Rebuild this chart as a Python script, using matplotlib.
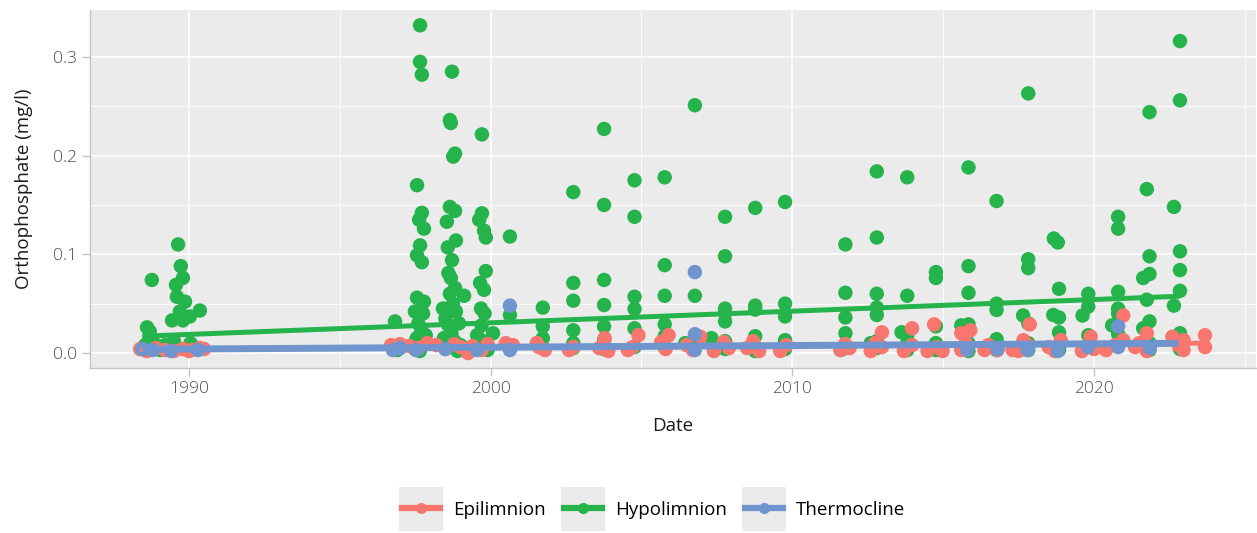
import matplotlib
matplotlib.use("Agg")
import matplotlib.pyplot as plt
from matplotlib.lines import Line2D
from matplotlib.patches import Rectangle
from matplotlib.legend_handler import HandlerLine2D
from matplotlib.ticker import MultipleLocator

plt.rcParams['font.family'] = ['Open Sans', 'DejaVu Sans']

# ---------------- data (decimal year, mg/l) ----------------
series_names = ["Epilimnion", "Hypolimnion", "Thermocline"]
series_colors = ["#F8766D", "#25B34B", "#7094CD"]

hypo_pts = [
    (1988.45, 0.004), (1988.55, 0.008), (1988.61, 0.026), (1988.70, 0.022), (1988.77, 0.074),
    (1988.80, 0.012), (1988.90, 0.006), (1989.05, 0.003), (1989.20, 0.008), (1989.37, 0.005),
    (1989.44, 0.033), (1989.50, 0.012), (1989.57, 0.069), (1989.64, 0.110), (1989.60, 0.057),
    (1989.73, 0.088), (1989.70, 0.042), (1989.80, 0.076), (1989.80, 0.033), (1989.87, 0.052),
    (1989.90, 0.004), (1990.03, 0.037), (1990.05, 0.010), (1990.36, 0.043), (1990.20, 0.006),
    (1996.83, 0.032), (1996.90, 0.003),
    (1997.49, 0.042), (1997.56, 0.056), (1997.56, 0.170), (1997.56, 0.099), (1997.66, 0.332),
    (1997.66, 0.295), (1997.72, 0.282), (1997.72, 0.142), (1997.63, 0.135), (1997.79, 0.126),
    (1997.66, 0.109), (1997.72, 0.092), (1997.79, 0.052), (1997.76, 0.040), (1997.60, 0.030),
    (1997.70, 0.022), (1997.55, 0.015), (1997.80, 0.010), (1997.50, 0.004), (1997.65, 0.002),
    (1997.85, 0.018), (1997.40, 0.008),
    (1998.42, 0.045), (1998.55, 0.133), (1998.65, 0.148), (1998.82, 0.144), (1998.72, 0.285),
    (1998.65, 0.236), (1998.68, 0.233), (1998.82, 0.202), (1998.76, 0.199), (1998.85, 0.114),
    (1998.58, 0.107), (1998.72, 0.094), (1998.60, 0.081), (1998.68, 0.076), (1998.82, 0.066),
    (1999.12, 0.058), (1998.85, 0.042), (1998.50, 0.035), (1998.60, 0.028), (1998.70, 0.020),
    (1998.80, 0.012), (1998.55, 0.006), (1998.90, 0.002), (1998.75, 0.050), (1998.95, 0.030),
    (1998.45, 0.015), (1998.65, 0.060), (1999.00, 0.008),
    (1999.71, 0.2215), (1999.71, 0.1415), (1999.62, 0.135), (1999.78, 0.124), (1999.84, 0.117),
    (1999.84, 0.083), (1999.65, 0.071), (1999.78, 0.064), (1999.68, 0.045), (1999.80, 0.040),
    (2000.08, 0.020), (1999.70, 0.028), (1999.75, 0.012), (1999.60, 0.005), (1999.90, 0.003),
    (1999.55, 0.018),
    (2000.64, 0.118), (2000.64, 0.0385), (2000.64, 0.008),
    (2001.73, 0.046), (2001.73, 0.027), (2001.73, 0.015), (2001.73, 0.005),
    (2002.74, 0.163), (2002.74, 0.071), (2002.74, 0.053), (2002.74, 0.023), (2002.74, 0.010), (2002.74, 0.005),
    (2003.76, 0.227), (2003.76, 0.150), (2003.76, 0.074), (2003.76, 0.0486), (2003.76, 0.027), (2003.76, 0.013), (2003.76, 0.004),
    (2004.77, 0.175), (2004.77, 0.138), (2004.77, 0.057), (2004.77, 0.0446), (2004.77, 0.025), (2004.77, 0.006),
    (2005.77, 0.178), (2005.77, 0.089), (2005.77, 0.058), (2005.77, 0.029), (2005.77, 0.017), (2005.77, 0.006),
    (2006.77, 0.251), (2006.77, 0.058), (2006.45, 0.010), (2006.77, 0.006), (2007.32, 0.015),
    (2007.77, 0.138), (2007.77, 0.098), (2007.77, 0.045), (2007.77, 0.040), (2007.77, 0.032), (2007.77, 0.012), (2007.77, 0.004),
    (2008.77, 0.147), (2008.77, 0.048), (2008.77, 0.044), (2008.77, 0.017), (2008.77, 0.006), (2008.77, 0.002),
    (2009.76, 0.153), (2009.76, 0.050), (2009.76, 0.037), (2009.76, 0.013), (2009.76, 0.004),
    (2011.76, 0.110), (2011.76, 0.061), (2011.76, 0.036), (2011.76, 0.020), (2011.76, 0.005), (2011.60, 0.003),
    (2012.80, 0.184), (2012.80, 0.117), (2012.80, 0.060), (2012.80, 0.046), (2012.80, 0.0385), (2012.80, 0.012),
    (2012.60, 0.010), (2012.80, 0.005),
    (2013.81, 0.178), (2013.81, 0.058), (2013.62, 0.021), (2013.81, 0.018), (2013.81, 0.010), (2013.81, 0.003),
    (2014.76, 0.082), (2014.76, 0.076), (2014.76, 0.027), (2014.76, 0.010), (2014.76, 0.003),
    (2015.84, 0.188), (2015.84, 0.088), (2015.84, 0.061), (2015.84, 0.029), (2015.60, 0.028), (2015.84, 0.010), (2015.84, 0.002),
    (2016.77, 0.154), (2016.77, 0.050), (2016.77, 0.0436), (2016.77, 0.014), (2016.77, 0.003),
    (2017.82, 0.263), (2017.82, 0.095), (2017.82, 0.086), (2017.65, 0.038), (2017.82, 0.030), (2017.82, 0.010), (2017.82, 0.003),
    (2018.67, 0.116), (2018.80, 0.112), (2018.84, 0.065), (2018.65, 0.0385), (2018.84, 0.036), (2018.84, 0.021),
    (2018.84, 0.008), (2018.84, 0.003),
    (2019.62, 0.038), (2019.81, 0.060), (2019.81, 0.047), (2019.81, 0.018), (2019.81, 0.008),
    (2020.80, 0.138), (2020.80, 0.126), (2020.80, 0.062), (2020.80, 0.045), (2020.80, 0.040), (2020.60, 0.028),
    (2020.80, 0.019), (2020.80, 0.008),
    (2021.75, 0.166), (2021.84, 0.244), (2021.84, 0.098), (2021.63, 0.076), (2021.84, 0.080), (2021.75, 0.054),
    (2021.84, 0.032), (2021.63, 0.025), (2021.84, 0.010), (2021.84, 0.003),
    (2022.85, 0.316), (2022.85, 0.256), (2022.65, 0.148), (2022.85, 0.103), (2022.85, 0.084), (2022.85, 0.063),
    (2022.65, 0.048), (2022.85, 0.020), (2022.85, 0.010), (2022.85, 0.004),
]

epi_pts = [
    (1988.38, 0.004), (1988.60, 0.002), (1988.90, 0.005), (1989.20, 0.003), (1989.50, 0.002),
    (1989.80, 0.004), (1990.10, 0.003), (1990.36, 0.005), (1990.50, 0.004), (1990.00, 0.002),
    (1996.83, 0.006), (1996.70, 0.008), (1997.00, 0.009), (1997.30, 0.007), (1997.60, 0.005),
    (1997.90, 0.010), (1998.20, 0.008), (1998.50, 0.004), (1998.80, 0.009), (1999.00, 0.006),
    (1999.25, 0.000), (1999.40, 0.007), (1999.70, 0.003), (1999.90, 0.009), (2000.50, 0.010),
    (2000.74, 0.008), (2001.53, 0.010), (2001.60, 0.006), (2001.80, 0.003),
    (2002.74, 0.006), (2002.60, 0.003),
    (2003.60, 0.005), (2003.78, 0.015), (2003.90, 0.002),
    (2004.55, 0.003), (2004.90, 0.018), (2004.70, 0.006),
    (2005.65, 0.011), (2005.90, 0.018), (2005.80, 0.004),
    (2006.50, 0.008), (2006.95, 0.0165), (2006.70, 0.003),
    (2007.40, 0.002), (2007.73, 0.011), (2007.90, 0.005),
    (2008.50, 0.005), (2008.70, 0.012), (2008.90, 0.002),
    (2009.60, 0.002), (2009.80, 0.008),
    (2011.60, 0.003), (2011.90, 0.005), (2011.75, 0.009),
    (2012.60, 0.002), (2012.97, 0.021), (2012.97, 0.006), (2012.75, 0.010),
    (2013.97, 0.025), (2013.97, 0.008), (2013.70, 0.002),
    (2014.48, 0.002), (2014.70, 0.029), (2014.80, 0.006), (2014.98, 0.002),
    (2015.60, 0.020), (2015.90, 0.023), (2015.60, 0.003), (2015.75, 0.010),
    (2016.37, 0.003), (2016.80, 0.003), (2016.50, 0.008),
    (2017.30, 0.003), (2017.50, 0.002), (2017.87, 0.029), (2017.66, 0.013), (2017.80, 0.008),
    (2018.50, 0.006), (2018.90, 0.013), (2018.70, 0.002),
    (2019.60, 0.002), (2019.89, 0.0165), (2019.80, 0.008), (2020.00, 0.004),
    (2020.40, 0.003), (2020.97, 0.038), (2020.97, 0.013), (2020.70, 0.008),
    (2021.36, 0.006), (2021.75, 0.020), (2021.75, 0.002), (2021.50, 0.010),
    (2022.60, 0.0165), (2022.97, 0.013), (2022.97, 0.003), (2022.80, 0.008),
    (2023.68, 0.018), (2023.68, 0.006),
]

thermo_pts = [
    (1988.45, 0.004), (1988.80, 0.003), (1989.40, 0.002), (1990.30, 0.003),
    (1996.76, 0.003), (1997.00, 0.005), (1997.53, 0.003), (1998.50, 0.004), (1999.55, 0.003),
    (2000.64, 0.048), (2000.64, 0.003),
    (2006.77, 0.082), (2006.77, 0.019), (2006.77, 0.003),
    (2015.80, 0.003), (2016.80, 0.004), (2017.80, 0.003), (2018.80, 0.002), (2019.80, 0.006),
    (2020.80, 0.027), (2020.80, 0.006), (2021.85, 0.005),
]

# linear trend lines (start year, end year) and (start value, end value)
epi_trend_years = [1988.38, 2023.68]
epi_trend_vals = [0.0035, 0.0100]
hypo_trend_years = [1988.45, 2022.85]
hypo_trend_vals = [0.0170, 0.0575]
thermo_trend_years = [1988.45, 2022.80]
thermo_trend_vals = [0.0038, 0.0098]

x_ticks = [1990, 2000, 2010, 2020]
y_ticks = [0.0, 0.1, 0.2, 0.3]

# ---------------- figure ----------------
fig = plt.figure(figsize=(12.57, 5.33), dpi=100)
ax = fig.add_axes([90 / 1257, 1 - 368 / 533, (1256 - 90) / 1257, (368 - 10) / 533])
ax.set_facecolor("#EBEBEB")

pts = {"Epilimnion": epi_pts, "Hypolimnion": hypo_pts, "Thermocline": thermo_pts}
trends = {
    "Epilimnion": (epi_trend_years, epi_trend_vals, 3.6),
    "Hypolimnion": (hypo_trend_years, hypo_trend_vals, 3.6),
    "Thermocline": (thermo_trend_years, thermo_trend_vals, 5.0),
}
colmap = dict(zip(series_names, series_colors))

for name in ["Hypolimnion", "Epilimnion", "Thermocline"]:
    xs = [p[0] for p in pts[name]]
    ys = [p[1] for p in pts[name]]
    ax.scatter(xs, ys, s=108, color=colmap[name], edgecolors="none", zorder=3)

for name in series_names:
    tx, tv, lw = trends[name]
    ax.plot(tx, tv, color=colmap[name], lw=lw, solid_capstyle="butt", zorder=4)

ax.set_xlim(1986.72, 2025.37)
ax.set_ylim(-0.0152, 0.3475)
ax.set_xticks(x_ticks)
ax.set_yticks(y_ticks)
ax.set_yticklabels([f"{v:.1f}" for v in y_ticks])
ax.xaxis.set_minor_locator(MultipleLocator(5))
ax.yaxis.set_minor_locator(MultipleLocator(0.05))
ax.grid(which="major", color="white", lw=1.1)
ax.grid(which="minor", color="white", lw=0.6)
ax.set_axisbelow(True)

for s in ["top", "right"]:
    ax.spines[s].set_visible(False)
for s in ["left", "bottom"]:
    ax.spines[s].set_color("#C4C4C4")
    ax.spines[s].set_linewidth(1.0)
ax.tick_params(which="major", length=5.5, width=1.0, color="#C4C4C4",
               labelsize=12.5, labelcolor="#4D4D4D", pad=4)
ax.tick_params(which="minor", length=0)
for lab in ax.get_xticklabels() + ax.get_yticklabels():
    lab.set_fontweight("light")

ax.set_xlabel("Date", fontsize=13.5, color="#1A1A1A", labelpad=14)
ax.set_ylabel("Orthophosphate (mg/l)", fontsize=13.5, color="#1A1A1A", labelpad=14)


class KeyBG(HandlerLine2D):
    def create_artists(self, legend, orig_handle, xdescent, ydescent, width, height,
                       fontsize, trans):
        arts = super().create_artists(legend, orig_handle, xdescent, ydescent, width,
                                      height, fontsize, trans)
        padx, pady = 2.5, 10
        r = Rectangle((-xdescent - padx, -ydescent - pady), width + 2 * padx,
                      height + 2 * pady, facecolor="#EBEBEB", edgecolor="none",
                      transform=trans)
        return [r] + arts


handles = [Line2D([], [], color=c, lw=4.5, marker="o", markersize=8,
                  markeredgecolor="none") for c in series_colors]
fig.legend(handles, series_names, loc="center", bbox_to_anchor=(0.520, 0.043),
           ncol=3, frameon=False, fontsize=13.5, handlelength=2.0, handleheight=1.0,
           handletextpad=0.7, columnspacing=1.0,
           handler_map={Line2D: KeyBG()})

fig.savefig("out.png", dpi=100)
